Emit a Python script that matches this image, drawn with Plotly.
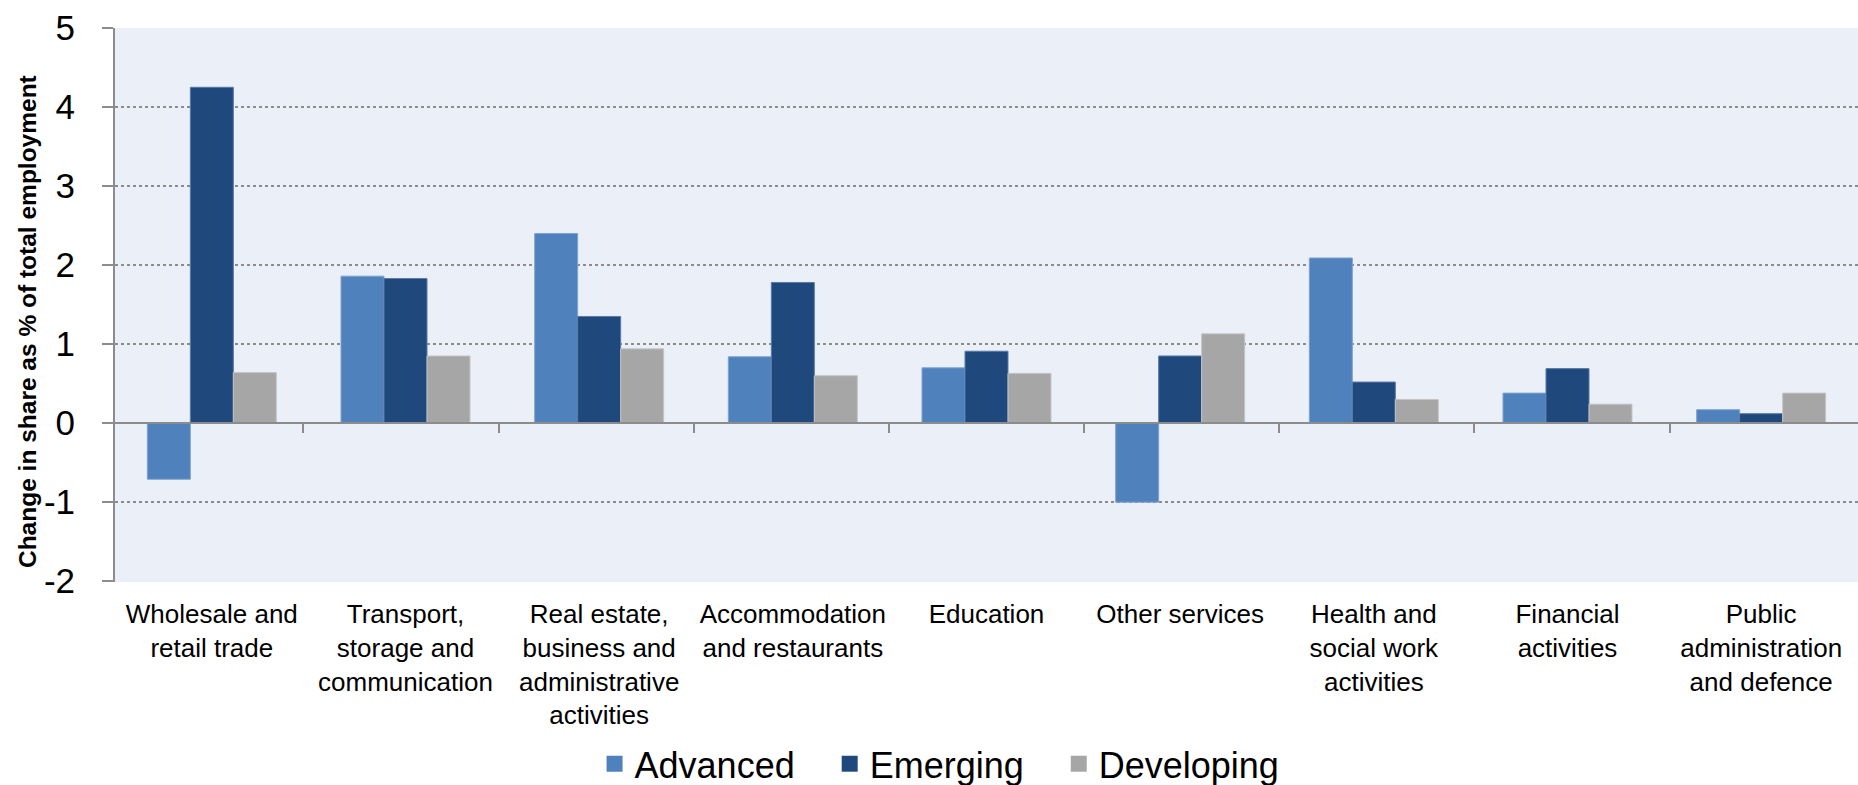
import plotly.graph_objects as go

categories = [
    "Wholesale and<br>retail trade",
    "Transport,<br>storage and<br>communication",
    "Real estate,<br>business and<br>administrative<br>activities",
    "Accommodation<br>and restaurants",
    "Education",
    "Other services",
    "Health and<br>social work<br>activities",
    "Financial<br>activities",
    "Public<br>administration<br>and defence",
]
advanced = [-0.71, 1.86, 2.40, 0.84, 0.70, -1.00, 2.09, 0.38, 0.17]
emerging = [4.25, 1.83, 1.35, 1.78, 0.91, 0.85, 0.52, 0.69, 0.12]
developing = [0.64, 0.85, 0.94, 0.60, 0.63, 1.13, 0.30, 0.24, 0.38]

y_ticks = [-2, -1, 0, 1, 2, 3, 4, 5]
y_labels = ["-2", "-1", "0", "1", "2", "3", "4", "5"]

series = [
    ("Advanced", advanced, "#4F81BD", "#7FA3D0"),
    ("Emerging", emerging, "#1F497D", "#5A7BA6"),
    ("Developing", developing, "#A6A6A6", "#C4C4C4"),
]

FONT = "Liberation Sans, Arial, sans-serif"
PAD = "\u00a0" * 3  # extra room between legend entries

fig = go.Figure()
for name, vals, color, edge in series:
    fig.add_trace(
        go.Bar(
            x=categories, y=vals, name=name, showlegend=False,
            marker=dict(color=color, line=dict(color=edge, width=1)),
        )
    )

# legend entries with bigger square swatches
for name, vals, color, edge in series:
    fig.add_trace(
        go.Scatter(
            x=[None], y=[None], name=name + PAD, mode="markers",
            marker=dict(symbol="square", size=16, color=color),
        )
    )

# invisible trace so the zero-line category axis (with boundary ticks) is drawn
fig.add_trace(
    go.Scatter(x=categories, y=[0] * len(categories), xaxis="x2",
               mode="markers", marker=dict(opacity=0), showlegend=False,
               hoverinfo="skip")
)

fig.add_annotation(
    text="<b>Change in share as % of total employment</b>",
    xref="paper", yref="paper", x=-0.0505, y=0.471,
    xanchor="center", yanchor="middle", textangle=-90, showarrow=False,
    font=dict(size=24.5, family=FONT, color="black"),
)

fig.update_layout(
    width=1858, height=785,
    margin=dict(l=115, r=0, t=28, b=203),
    paper_bgcolor="white",
    plot_bgcolor="#EBF0F8",
    barmode="group",
    bargap=0.334,
    bargroupgap=0,
    font=dict(family=FONT, color="black"),
    showlegend=True,
    legend=dict(
        orientation="h", x=0.320, xanchor="left", xref="container",
        y=0.027, yanchor="middle", yref="container",
        font=dict(size=36, family=FONT), itemsizing="trace",
        traceorder="normal",
    ),
    xaxis=dict(
        type="category", categoryorder="array", categoryarray=categories,
        showgrid=False, zeroline=False, showline=False,
        ticks="", tickfont=dict(size=26, family=FONT),
        ticklabelstandoff=14,
    ),
    xaxis2=dict(
        type="category", categoryorder="array", categoryarray=categories,
        overlaying="x", anchor="free", position=2.01 / 7.01, side="bottom",
        showgrid=False, zeroline=False, showline=True,
        linecolor="#8C8C8C", linewidth=2,
        ticks="outside", tickson="boundaries", ticklen=9, tickwidth=2,
        tickcolor="#8C8C8C", showticklabels=False,
    ),
    yaxis=dict(
        range=[-2.01, 5], tickvals=y_ticks, ticktext=y_labels,
        showgrid=True, gridcolor="#8C8C8C", griddash="dot", gridwidth=1.5,
        zeroline=False,
        showline=True, linecolor="#8C8C8C", linewidth=2,
        ticks="outside", ticklen=11, tickwidth=2, tickcolor="#8C8C8C",
        tickfont=dict(size=35, family=FONT), ticklabelstandoff=20,
    ),
)

fig.write_html(
    "out.html",
    config={"displayModeBar": False},
    post_script="document.body.style.margin='0';",
)
